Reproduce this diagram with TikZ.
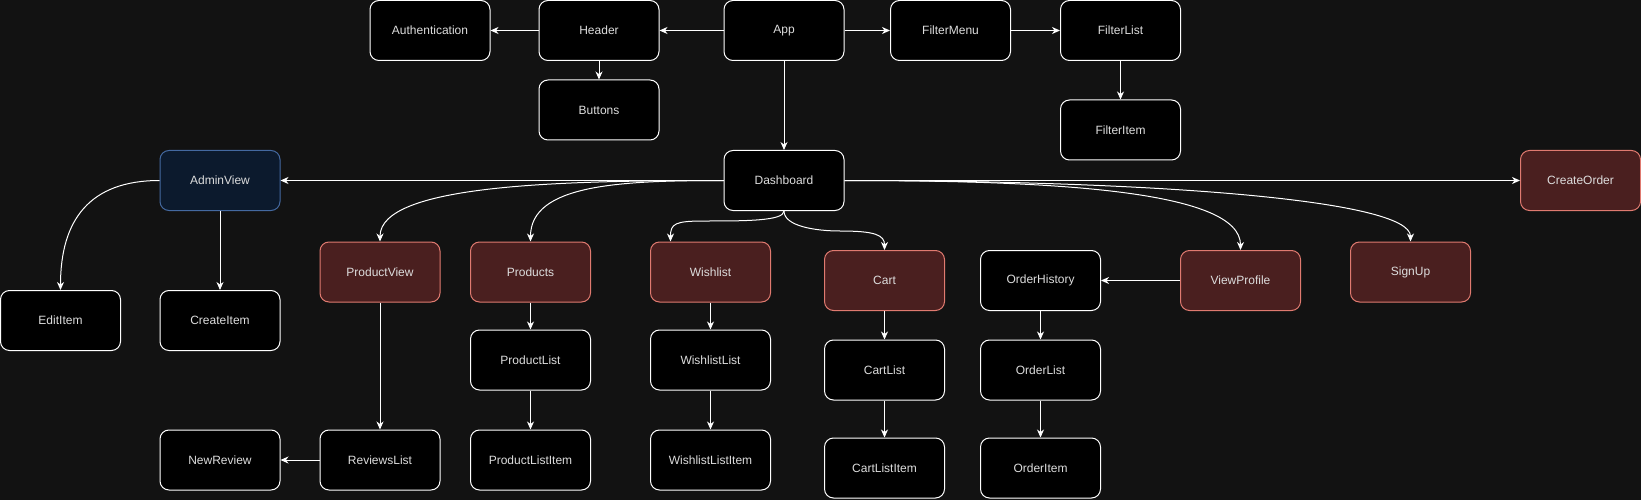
\documentclass[tikz,border=0pt]{standalone}
\usepackage{fontspec}
\setmainfont{Liberation Sans}
\usetikzlibrary{arrows.meta}
\definecolor{bg}{HTML}{121212}
\definecolor{txt}{HTML}{DDDDDD}
\definecolor{redfill}{HTML}{4A1F1F}
\definecolor{redline}{HTML}{E07A70}
\definecolor{bluefill}{HTML}{0C1A2D}
\definecolor{blueline}{HTML}{4469A0}
\tikzset{
  box/.style={draw=white, fill=black, line width=1pt, rounded corners=9pt,
    minimum width=120pt, minimum height=60pt, inner sep=0pt,
    text=txt, font=\fontsize{12pt}{14pt}\selectfont},
  redbox/.style={box, draw=redline, fill=redfill},
  bluebox/.style={box, draw=blueline, fill=bluefill},
  edge/.style={draw=white, line width=1pt, -{Stealth[length=8pt,width=7pt,inset=2.5pt]}}
}
\begin{document}
\begin{tikzpicture}[x=1pt,y=-1pt]
\fill[bg] (0,0) rectangle (1641,500);
\useasboundingbox (0,0) rectangle (1641,500);
% top row
\node[box] (auth) at (430,30.5) {Authentication};
\node[box] (header) at (599,30.5) {Header};
\node[box] (app) at (784,30.5) {App};
\node[box] (fmenu) at (950.5,30.5) {FilterMenu};
\node[box] (flist) at (1120.5,30.5) {FilterList};
\node[box] (buttons) at (599,110) {Buttons};
\node[box] (fitem) at (1120.5,130) {FilterItem};
% dashboard row
\node[bluebox] (admin) at (220,180.5) {AdminView};
\node[box] (dash) at (784,180.5) {Dashboard};
\node[redbox] (corder) at (1580.5,180.5) {CreateOrder};
% third row
\node[box] (edit) at (60.5,320.5) {EditItem};
\node[box] (create) at (220,320.5) {CreateItem};
\node[redbox] (pview) at (380,272) {ProductView};
\node[redbox] (products) at (530.5,272) {Products};
\node[redbox] (wish) at (710.5,272) {Wishlist};
\node[redbox] (cart) at (884.5,280.5) {Cart};
\node[box] (ohist) at (1040.5,280.5) {OrderHistory};
\node[redbox] (vprof) at (1240.5,280.5) {ViewProfile};
\node[redbox] (signup) at (1410.5,272) {SignUp};
% lists
\node[box] (plist) at (530.5,360) {ProductList};
\node[box] (wlist) at (710.5,360) {WishlistList};
\node[box] (clist) at (884.5,370) {CartList};
\node[box] (olist) at (1040.5,370) {OrderList};
% items
\node[box] (newrev) at (220,460) {NewReview};
\node[box] (rlist) at (380,460) {ReviewsList};
\node[box] (plitem) at (530.5,460) {ProductListItem};
\node[box] (wlitem) at (710.5,460) {WishlistListItem};
\node[box] (clitem) at (884.5,468) {CartListItem};
\node[box] (oitem) at (1040.5,468) {OrderItem};
% waypoints
\coordinate (wwp) at (705,221);
\coordinate (cwp) at (840,231);
% straight edges
\draw[edge] (app) -- (header);
\draw[edge] (header) -- (auth);
\draw[edge] (header) -- (buttons);
\draw[edge] (app) -- (fmenu);
\draw[edge] (fmenu) -- (flist);
\draw[edge] (flist) -- (fitem);
\draw[edge] (app) -- (dash);
\draw[edge] (dash) -- (admin);
\draw[edge] (dash) -- (corder);
\draw[edge] (admin) -- (create);
\draw[edge] (pview) -- (rlist);
\draw[edge] (rlist) -- (newrev);
\draw[edge] (products) -- (plist);
\draw[edge] (plist) -- (plitem);
\draw[edge] (wish) -- (wlist);
\draw[edge] (wlist) -- (wlitem);
\draw[edge] (cart) -- (clist);
\draw[edge] (clist) -- (clitem);
\draw[edge] (vprof) -- (ohist);
\draw[edge] (ohist) -- (olist);
\draw[edge] (olist) -- (oitem);
% curved edges
\draw[edge] (admin.west) .. controls +(-70,0) and +(0,-70) .. (edit.north);
\draw[edge] (dash.west) .. controls +(-164,0) and +(0,-57) .. (pview.north);
\draw[edge] (dash.west) .. controls +(-104,0) and +(0,-57) .. (products.north);
\draw[edge] (dash.south) .. controls +(0,10) and +(40,0) .. (wwp) .. controls +(-30,0) and +(0,-18) .. ([xshift=-40pt]wish.north);
\draw[edge] (dash.south) .. controls +(0,15) and +(-25,0) .. (cwp) .. controls +(35,0) and +(0,-15) .. (cart.north);
\draw[edge] (dash.east) .. controls +(206,0) and +(0,-60) .. (vprof.north);
\draw[edge] (dash.east) .. controls +(306,0) and +(0,-42) .. (signup.north);
\end{tikzpicture}
\end{document}
